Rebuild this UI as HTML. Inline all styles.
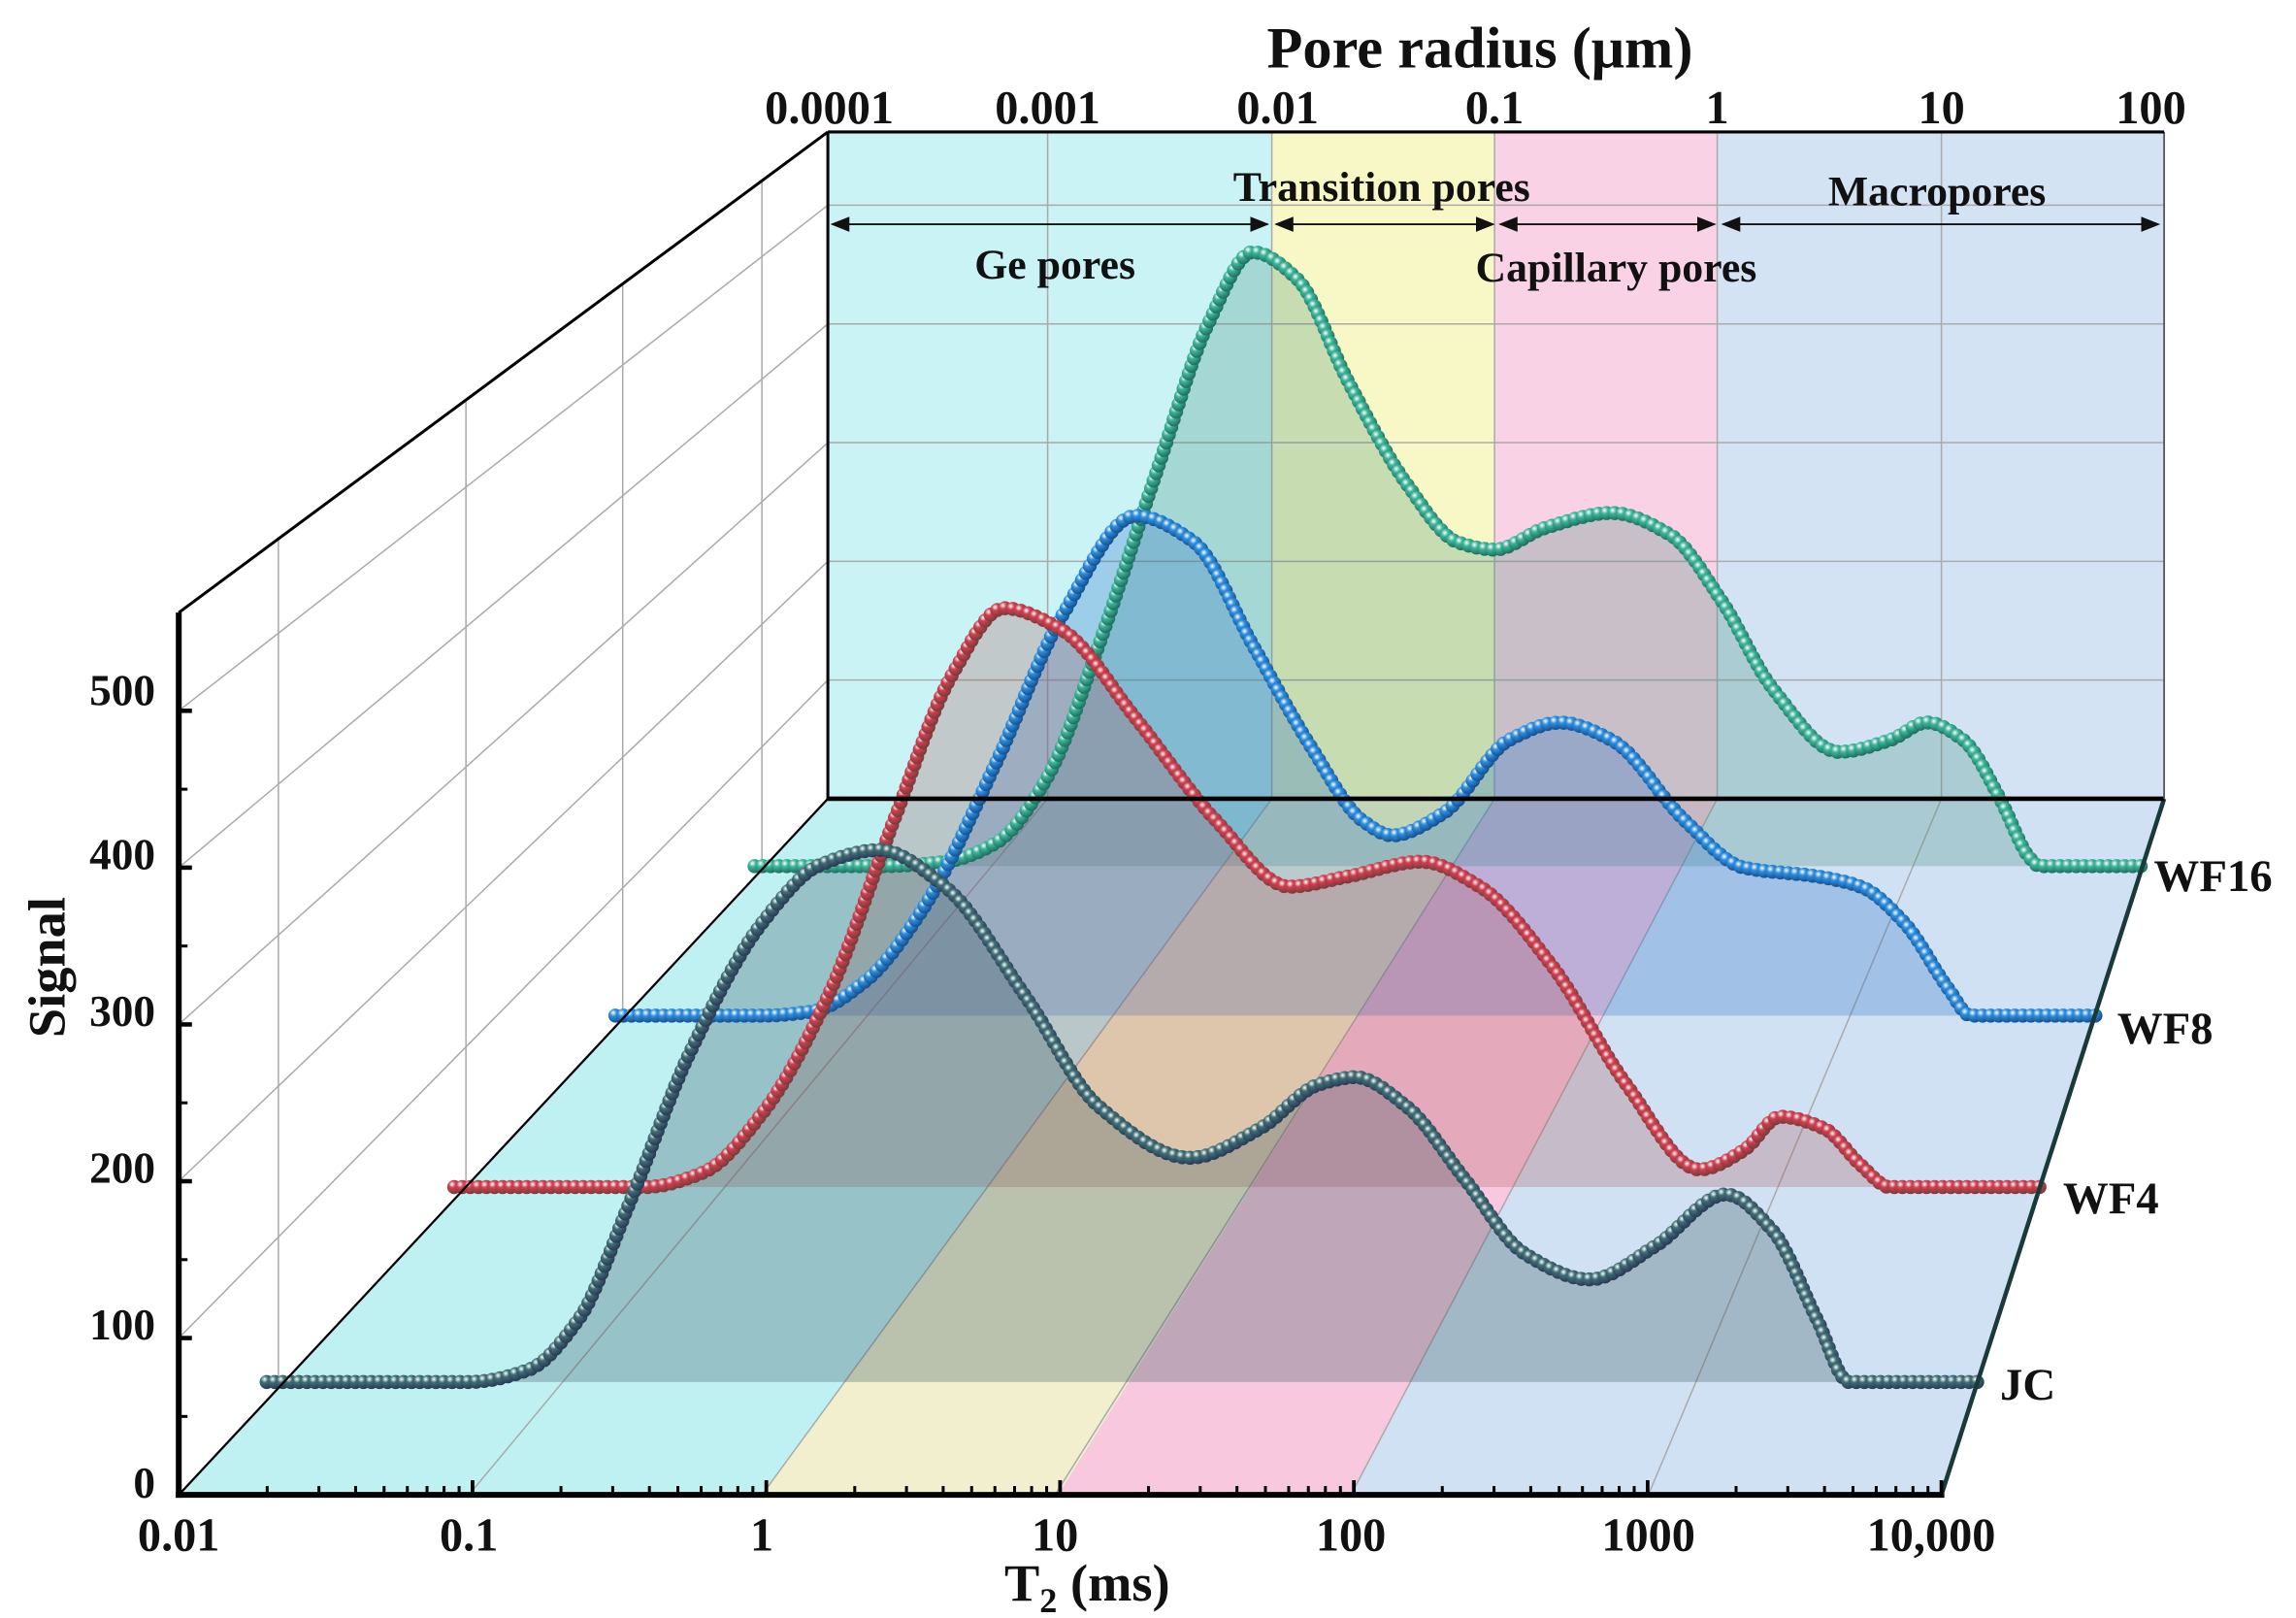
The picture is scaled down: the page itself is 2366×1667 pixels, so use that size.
<!DOCTYPE html>
<html><head><meta charset="utf-8"><style>
html,body{margin:0;padding:0;background:#fff;}
svg{display:block;}
text{font-family:"Liberation Serif",serif;font-weight:bold;fill:#111;}
</style></head><body>
<svg id="s" width="2366" height="1667" viewBox="0 0 1567 1104" xmlns="http://www.w3.org/2000/svg">
<defs>
<marker id="ar" markerWidth="10" markerHeight="8" refX="9" refY="4" orient="auto"><path d="M0,0 L10,4 L0,8 z" fill="#111"/></marker>
<marker id="al" markerWidth="10" markerHeight="8" refX="1" refY="4" orient="auto"><path d="M10,0 L0,4 L10,8 z" fill="#111"/></marker>
</defs>
<rect x="565" y="90" width="303" height="455" fill="#c9f3f5"/>
<rect x="868" y="90" width="152" height="455" fill="#f8f8c6"/>
<rect x="1020" y="90" width="152" height="455" fill="#f9d2e5"/>
<rect x="1172" y="90" width="305" height="455" fill="#d3e3f4"/>
<polygon points="122,1020 520,1020 868,545 565,545" fill="#bff0f2"/>
<polygon points="520,1020 722,1020 1020,545 868,545" fill="#f1efcd"/>
<polygon points="722,1020 922,1020 1172,545 1020,545" fill="#f8c8df"/>
<polygon points="922,1020 1325,1020 1477,545 1172,545" fill="#d0e1f3"/>
<g id="grid" stroke="#aaa" stroke-width="1" fill="none"></g>
<g id="fills"></g>
<g id="beads"></g>
<g id="axes" stroke="#000" fill="none"></g>
<text x="1010" y="46" font-size="40" text-anchor="middle">Pore radius (μm)</text>
<g font-size="32" text-anchor="middle">
<text x="566" y="84">0.0001</text><text x="715" y="84">0.001</text><text x="872" y="84">0.01</text>
<text x="1020" y="84">0.1</text><text x="1172" y="84">1</text><text x="1325" y="84">10</text><text x="1468" y="84">100</text>
<text x="122" y="1058">0.01</text><text x="320" y="1058">0.1</text><text x="520" y="1058">1</text>
<text x="720" y="1058">10</text><text x="922" y="1058">100</text><text x="1125" y="1058">1000</text><text x="1318" y="1058">10,000</text>
</g>
<text x="742" y="1092" font-size="36" text-anchor="middle">T<tspan font-size="24" dy="8">2</tspan><tspan dy="-8"> (ms)</tspan></text>
<text transform="translate(44,660) rotate(-90)" font-size="36" text-anchor="middle">Signal</text>
<g font-size="30" text-anchor="end">
<text x="106" y="1022">0</text><text x="106" y="914">100</text><text x="106" y="807">200</text>
<text x="106" y="700">300</text><text x="106" y="593">400</text><text x="106" y="481">500</text>
</g>
<g font-size="29" text-anchor="middle">
<text x="943" y="137">Transition pores</text><text x="1322" y="140">Macropores</text>
<text x="720" y="190">Ge pores</text><text x="1103" y="192">Capillary pores</text>
</g>
<g stroke="#111" stroke-width="1.3" marker-start="url(#al)" marker-end="url(#ar)">
<line x1="568" y1="153" x2="865" y2="153"/><line x1="871" y1="153" x2="1019" y2="153"/>
<line x1="1024" y1="153" x2="1170" y2="153"/><line x1="1176" y1="153" x2="1473" y2="153"/>
</g>
<g font-size="31">
<text x="1470" y="608">WF16</text><text x="1445" y="712">WF8</text><text x="1408" y="828">WF4</text><text x="1365" y="955">JC</text>
</g>
</svg>
<script>
const NS="http://www.w3.org/2000/svg";
function el(p,t,a){const e=document.createElementNS(NS,t);for(const k in a)e.setAttribute(k,a[k]);p.appendChild(e);return e;}
const g=document.getElementById('grid');
[715,868,1020,1172,1325].forEach(x=>el(g,'line',{x1:x,y1:90,x2:x,y2:545}));
for(let k=1;k<=5;k++){const yb=545-81*k;el(g,'line',{x1:565,y1:yb,x2:1477,y2:yb});
 el(g,'line',{x1:122,y1:1020-107*k,x2:565,y2:yb});}
[[320,715],[520,868],[720,1020],[922,1172],[1125,1325]].forEach(p=>el(g,'line',{x1:p[0],y1:1020,x2:p[1],y2:545}));
[190,318,425,520].forEach(x=>{const t=(x-122)/443;el(g,'line',{x1:x,y1:1020-475*t,x2:x,y2:418-328*t});});
const a=document.getElementById('axes');
el(a,'line',{x1:122,y1:418,x2:122,y2:1022,'stroke-width':4});
el(a,'line',{x1:120,y1:1020,x2:1327,y2:1020,'stroke-width':4});
el(a,'line',{x1:1325,y1:1020,x2:1477,y2:545,'stroke-width':3,stroke:'#1a3a3a'});
el(a,'line',{x1:565,y1:545,x2:1477,y2:545,'stroke-width':3});
el(a,'line',{x1:565,y1:90,x2:565,y2:545,'stroke-width':2});
el(a,'line',{x1:1477,y1:90,x2:1477,y2:545,'stroke-width':1.2,stroke:'#556'});
el(a,'line',{x1:565,y1:90,x2:1477,y2:90,'stroke-width':2});
el(a,'line',{x1:122,y1:418,x2:565,y2:90,'stroke-width':2});
el(a,'line',{x1:122,y1:1020,x2:565,y2:545,'stroke-width':1.5});
for(let k=0;k<=5;k++){el(a,'line',{x1:122,y1:1020-107*k,x2:131,y2:1020-107*k,'stroke-width':3});
 if(k<5)el(a,'line',{x1:122,y1:1020-107*k-53.5,x2:128,y2:1020-107*k-53.5,'stroke-width':2});}
for(let d=0;d<6;d++){const x0=122+200.5*d;el(a,'line',{x1:x0,y1:1020,x2:x0,y2:1010,'stroke-width':2.5});
 for(let m=2;m<10;m++){const x=x0+200.5*Math.log10(m);el(a,'line',{x1:x,y1:1020,x2:x,y2:1014,'stroke-width':2});}}
el(a,'line',{x1:1325,y1:1020,x2:1325,y2:1010,'stroke-width':2.5});
// monotone cubic interpolation
function mono(pts){const n=pts.length,xs=pts.map(p=>p[0]),ys=pts.map(p=>p[1]);const dx=[],m=[];
 for(let i=0;i<n-1;i++){dx[i]=xs[i+1]-xs[i];m[i]=(ys[i+1]-ys[i])/dx[i];}
 const t=[m[0]];for(let i=1;i<n-1;i++){if(m[i-1]*m[i]<=0)t[i]=0;else{const w1=2*dx[i]+dx[i-1],w2=dx[i]+2*dx[i-1];t[i]=(w1+w2)/(w1/m[i-1]+w2/m[i]);}}t[n-1]=m[n-2];
 const out=[];for(let i=0;i<n-1;i++){const N=Math.max(4,Math.ceil(dx[i]));for(let j=0;j<N;j++){const s=j/N,h=dx[i];
 const h00=2*s*s*s-3*s*s+1,h10=s*s*s-2*s*s+s,h01=-2*s*s*s+3*s*s,h11=s*s*s-s*s;
 out.push([xs[i]+s*h,h00*ys[i]+h10*h*t[i]+h01*ys[i+1]+h11*h*t[i+1]]);}}out.push(pts[n-1]);return out;}
function resample(c,step){const o=[c[0]];let acc=0;for(let i=1;i<c.length;i++){let dx=c[i][0]-c[i-1][0],dy=c[i][1]-c[i-1][1],d=Math.hypot(dx,dy);
 acc+=d;while(acc>=step){const r=(acc-step)/d;o.push([c[i][0]-dx*r,c[i][1]-dy*r]);acc-=step;}}return o;}
const S=[
{b:591,c1:'#3fb59a',c2:'#1d6f5f',fill:'rgba(60,140,120,0.26)',p:[[515,591],[600,591],[645,588],[680,575],[715,530],[750,440],[790,320],[825,220],[855,172],[885,190],[920,260],[960,330],[995,370],[1020,375],[1055,360],[1100,350],[1140,365],[1175,410],[1210,470],[1255,513],[1290,505],[1315,493],[1340,505],[1365,545],[1385,585],[1392,591],[1466,591]]},
{b:693,c1:'#2f8fe0',c2:'#15508f',fill:'rgba(40,110,200,0.28)',p:[[420,693],[520,693],[555,690],[590,670],[630,620],[680,520],[725,420],[775,352],[815,370],[855,440],[895,510],[930,560],[950,570],[985,555],[1030,505],[1065,493],[1100,505],[1150,560],[1190,592],[1240,598],[1270,605],[1300,630],[1330,675],[1345,693],[1432,693]]},
{b:810,c1:'#d04050',c2:'#7a3a3a',fill:'rgba(170,80,80,0.26)',p:[[310,810],[440,810],[480,800],[520,760],[565,680],[610,560],[650,460],[685,415],[725,430],[775,490],[830,560],[880,605],[920,598],[970,588],[1010,605],[1060,660],[1110,740],[1160,798],[1190,785],[1215,762],[1245,770],[1270,795],[1290,810],[1392,810]]},
{b:943,c1:'#3f6f75',c2:'#2a3a55',fill:'rgba(60,90,100,0.3)',p:[[182,943],[320,943],[360,935],[395,900],[430,820],[470,720],[520,630],[560,590],[600,580],[645,605],[700,680],[750,755],[812,790],[860,770],[900,740],[925,735],[960,755],[1000,805],[1040,855],[1085,873],[1130,850],[1178,815],[1210,840],[1240,900],[1262,943],[1352,943]]}
];
const F=document.getElementById('fills'),B=document.getElementById('beads');
const defs=document.querySelector('defs');
S.forEach((s,i)=>{const c=mono(s.p);
 let d='M'+c.map(q=>q[0].toFixed(1)+','+q[1].toFixed(1)).join(' L')+' Z';
 el(F,'path',{d:d,fill:s.fill});
 const rg=el(defs,'radialGradient',{id:'g'+i,cx:'0.35',cy:'0.3',r:'0.7'});
 el(rg,'stop',{offset:'0','stop-color':'#fff'});el(rg,'stop',{offset:'0.35','stop-color':s.c1});el(rg,'stop',{offset:'1','stop-color':s.c2});
 const pts=resample(c,5.5);const gg=el(B,'g',{fill:'url(#g'+i+')'});
 pts.forEach(q=>el(gg,'circle',{cx:q[0].toFixed(1),cy:q[1].toFixed(1),r:4.8}));
});
</script>
</body></html>
